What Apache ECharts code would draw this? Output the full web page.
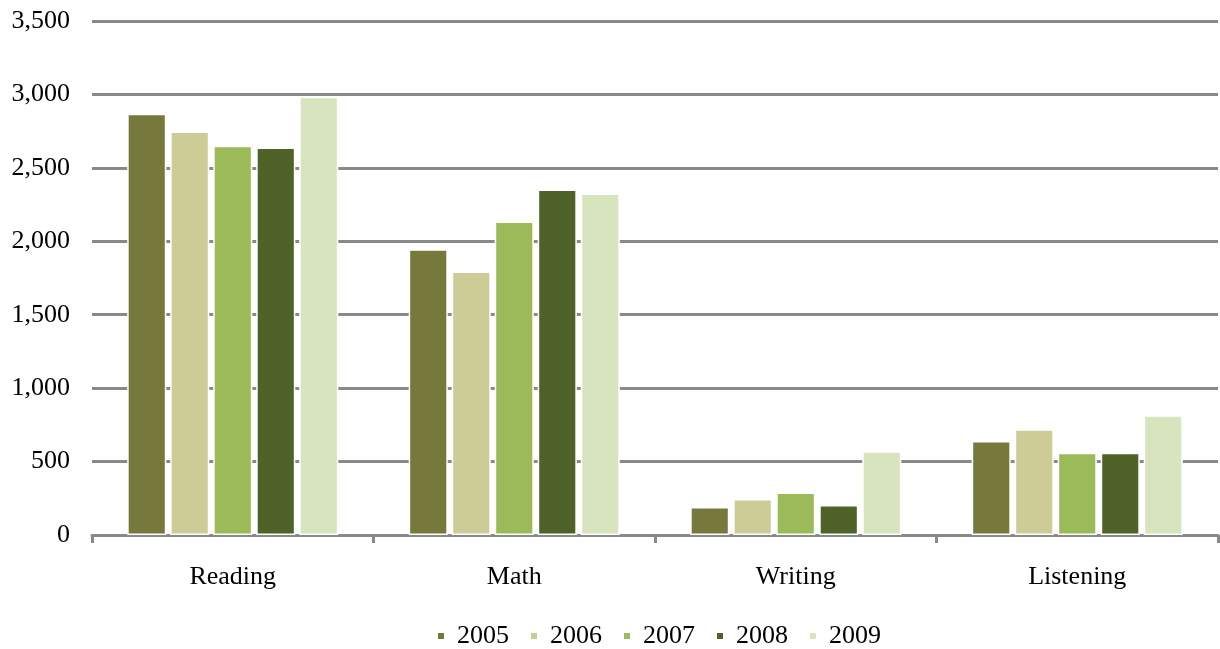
<!DOCTYPE html>
<html>
<head>
<meta charset="utf-8">
<script src="https://cdn.jsdelivr.net/npm/echarts@6/dist/echarts.min.js"></script>
<style>
  html, body { margin: 0; padding: 0; background: #fff; }
  #chart { width: 1220px; height: 649px; }
</style>
</head>
<body>
<div id="chart"></div>
<script>
// categories and yearly series
var categories = ['Reading', 'Math', 'Writing', 'Listening'];
var years = ['2005', '2006', '2007', '2008', '2009'];
var v2005 = [2868, 1945, 190, 640];
var v2006 = [2748, 1795, 245, 720];
var v2007 = [2650, 2135, 290, 560];
var v2008 = [2638, 2352, 205, 560];
var v2009 = [2985, 2325, 570, 815];
var yTicks = [0, 500, 1000, 1500, 2000, 2500, 3000, 3500];

var colors = ['#77783c', '#cdcc97', '#9bbb59', '#4f6228', '#d8e4bd'];
var seriesValues = [v2005, v2006, v2007, v2008, v2009];
var font = '"Liberation Serif", "DejaVu Serif", serif';

var chart = echarts.init(document.getElementById('chart'));

chart.setOption({
    animation: false,
    color: colors,
    grid: { left: 92, right: 2, top: 21, bottom: 114 },
    legend: {
        data: years,
        left: 436,
        top: 623,
        padding: 0,
        icon: 'rect',
        itemWidth: 8,
        itemHeight: 8,
        itemGap: 20,
        textStyle: { fontFamily: font, fontSize: 26, color: '#000', padding: [0, 0, 0, 7] }
    },
    xAxis: {
        type: 'category',
        data: categories,
        axisLine: { lineStyle: { color: '#898989', width: 3 } },
        axisTick: { show: true, length: 8, lineStyle: { color: '#898989', width: 3 } },
        axisLabel: { fontFamily: font, fontSize: 26, color: '#000', margin: 29 }
    },
    yAxis: {
        type: 'value',
        min: yTicks[0],
        max: yTicks[yTicks.length - 1],
        interval: 500,
        axisLine: { show: false },
        axisTick: { show: false },
        splitLine: { lineStyle: { color: '#898989', width: 3 } },
        axisLabel: {
            fontFamily: font, fontSize: 26, color: '#000', margin: 22,
            formatter: function (v) { return v.toLocaleString('en-US'); }
        }
    },
    series: years.map(function (y, i) {
        return {
            name: y,
            type: 'bar',
            data: seriesValues[i],
            barGap: '10%',
            barCategoryGap: '25%',
            itemStyle: { borderColor: '#fff', borderWidth: 1.5 }
        };
    })
});
</script>
</body>
</html>
